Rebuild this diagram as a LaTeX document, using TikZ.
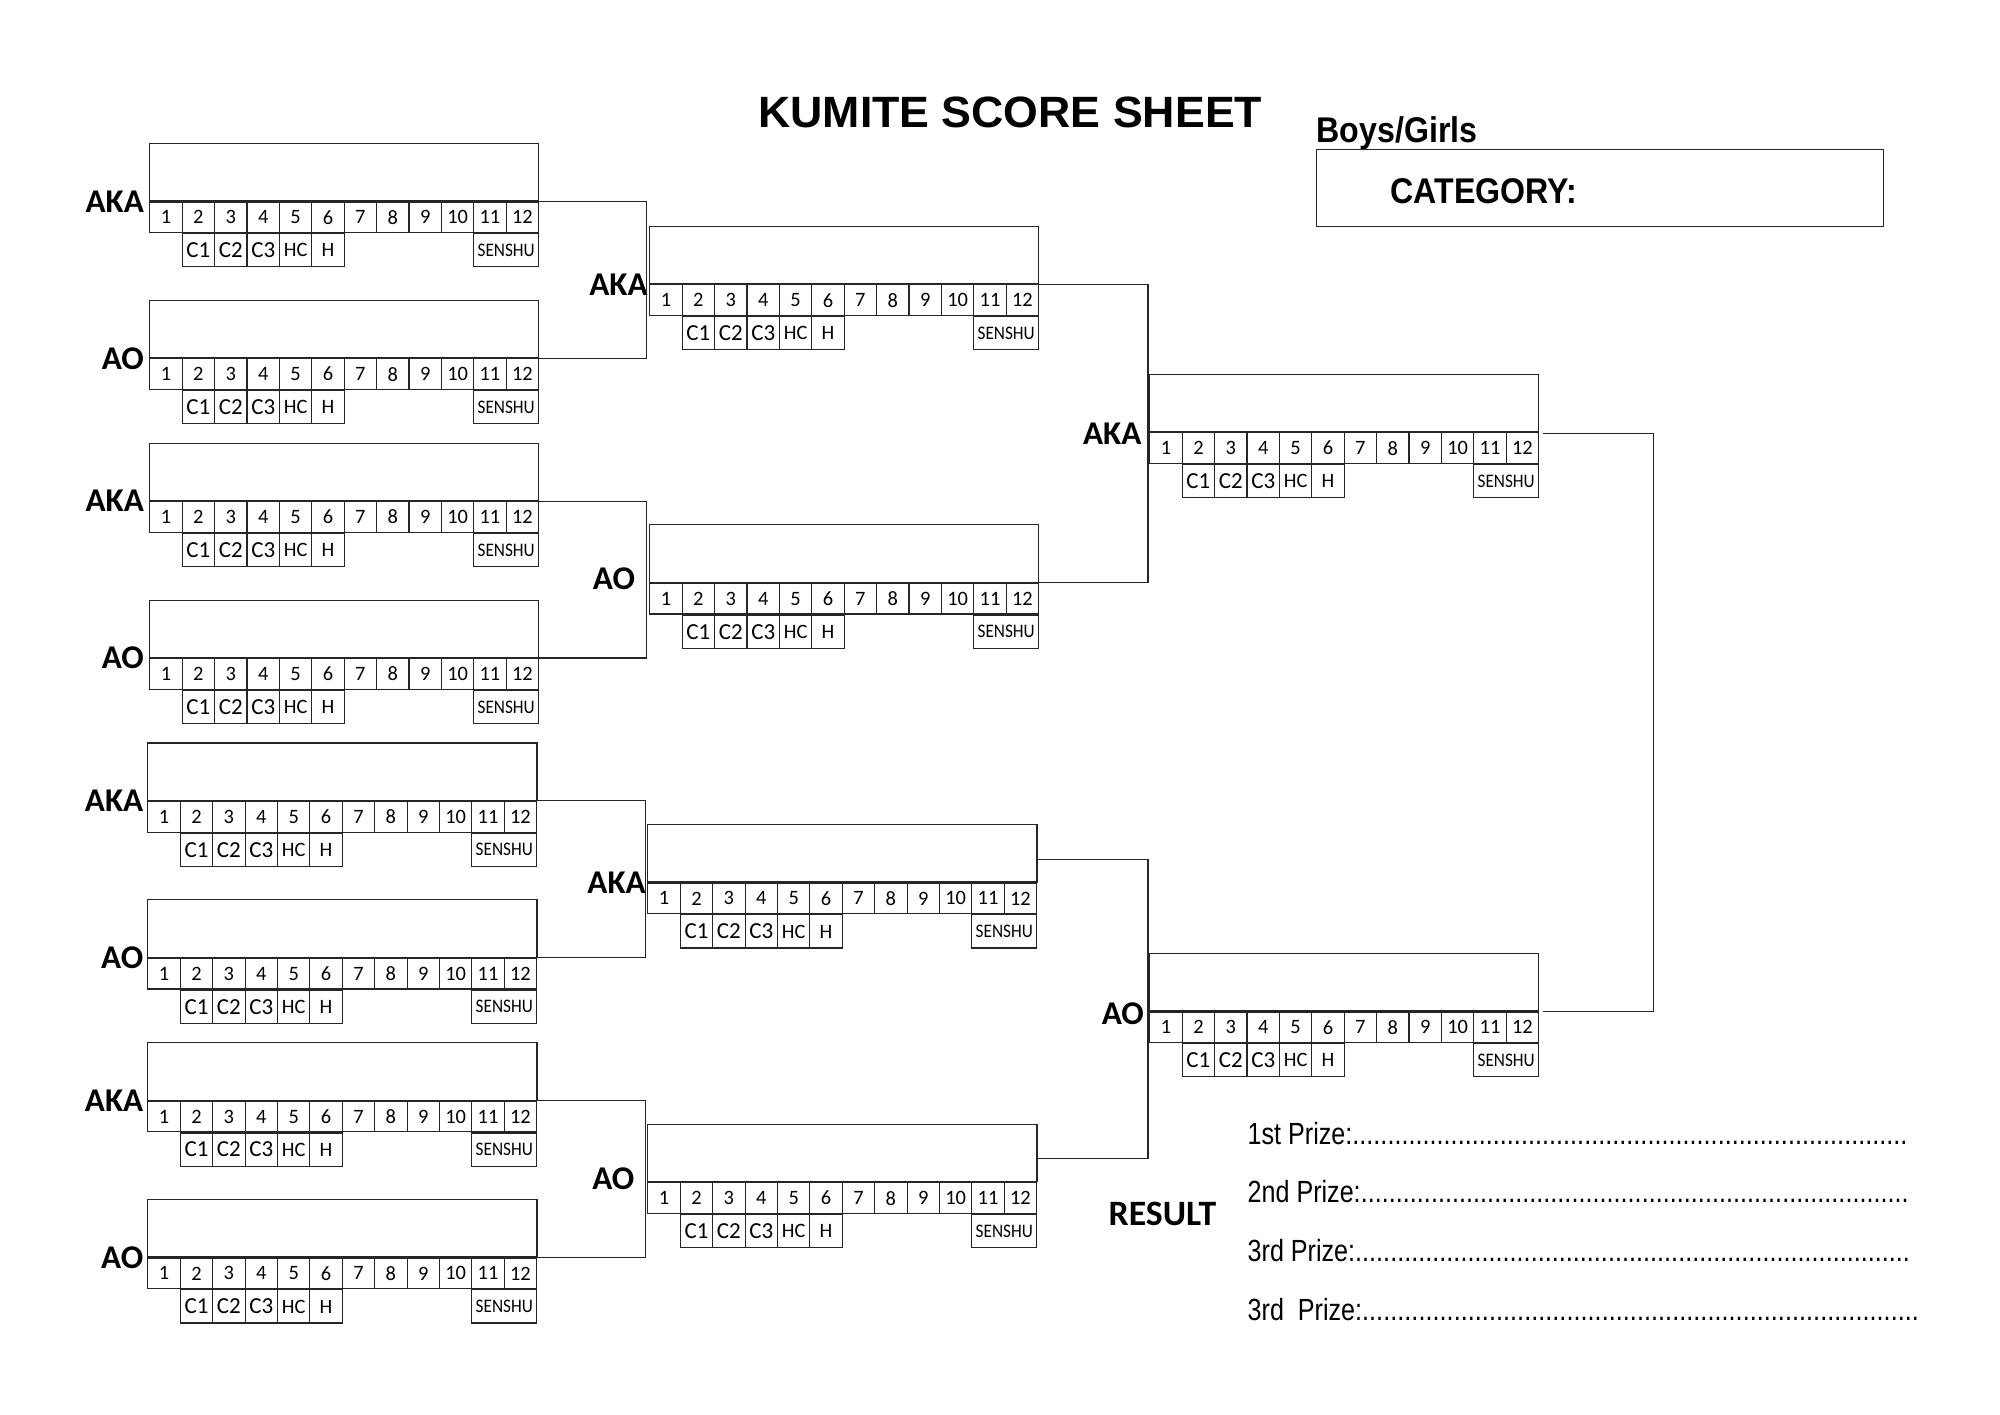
\documentclass[tikz,border=0pt]{standalone}
\usepackage{fontspec}
\setmainfont{Carlito}
\newfontfamily\arialfont{Liberation Sans}
\newfontfamily\arialnarrow[FakeStretch=0.82]{Liberation Sans}
\newfontfamily\arialbn[FakeStretch=0.9]{Liberation Sans}
\newfontfamily\senshufont[FakeStretch=0.9]{Carlito}
\usetikzlibrary{calc}

\tikzset{
  ln/.style={draw=black!85, line width=0.9pt},
  namebox/.style={ln, rectangle, minimum width=305pt, minimum height=45pt, inner sep=0pt, anchor=north west},
  cell/.style={ln, rectangle, minimum width=25.4pt, minimum height=24pt, inner sep=0pt, anchor=north west, font=\fontsize{16}{16}\selectfont},
  subcell/.style={ln, rectangle, minimum width=25.4pt, minimum height=26pt, inner sep=0pt, anchor=north west, font=\fontsize{18}{18}\selectfont},
  widecell/.style={minimum width=50.8pt},
  side/.style={anchor=east, inner sep=0pt, font=\bfseries\fontsize{26}{26}\selectfont},
  bracket/.style={draw=black!85, line width=0.9pt},
  prize/.style={anchor=base west, inner sep=0pt, font=\arialnarrow\fontsize{24}{24}\selectfont},
}

% #1 name, #2 x, #3 y, #4 label, #5 label offset
\newcommand\kumbox[5]{%
  \node[namebox] (#1) at (#2,#3) {};
  \foreach \i in {1,...,12}{
    \node[cell] (#1-\i) at ($(#1.south west)+({(\i-1)*25.4},0)$) {\i};
  }
  \node[subcell] (#1-ca) at (#1-2.south west) {C1};
  \node[subcell] (#1-cb) at (#1-3.south west) {C2};
  \node[subcell] (#1-cc) at (#1-4.south west) {C3};
  \node[subcell, font=\fontsize{16}{16}\selectfont] (#1-hc) at (#1-5.south west) {HC};
  \node[subcell, font=\fontsize{16}{16}\selectfont] (#1-h) at (#1-6.south west) {H};
  \node[subcell, widecell, font=\senshufont\fontsize{15}{15}\selectfont] (#1-sen) at (#1-11.south west) {SENSHU};
  \node[side] (#1-lab) at ($(#1.south west)+(#5)$) {#4};
}

\begin{document}
\begin{tikzpicture}[x=1pt, y=-1pt]
\fill[white] (0,0) rectangle (1568,1109);
\useasboundingbox (0,0) rectangle (1568,1109);

% title
\node (title) at (792,88) {\resizebox{395pt}{24pt}{\arialfont\bfseries KUMITE SCORE SHEET}};
\node[anchor=base west, inner sep=0pt, font=\arialbn\bfseries\fontsize{28}{28}\selectfont] (boys) at (1032,112) {Boys/Girls};
\node[ln, rectangle, minimum width=444pt, minimum height=60pt, inner sep=0pt, anchor=north west] (cat) at (1032,117) {};
\node[anchor=west, inner sep=0pt, font=\arialbn\bfseries\fontsize{28}{28}\selectfont] (catlab) at (1090,150) {CATEGORY:};

% round 1
\kumbox{a1}{117}{112}{AKA}{-4,0}
\kumbox{a2}{117}{235}{AO}{-4,0}
\kumbox{a3}{117}{347}{AKA}{-4,0}
\kumbox{a4}{117}{470}{AO}{-4,0}
\kumbox{a5}{115.5}{582}{AKA}{-3,0}
\kumbox{a6}{115.5}{705}{AO}{-3,0}
\kumbox{a7}{115.5}{817}{AKA}{-3,0}
\kumbox{a8}{115.5}{940}{AO}{-3,0}

% round 2
\kumbox{ra}{509}{177}{AKA}{-1,0}
\kumbox{rb}{509}{411}{AO}{-11,-3}
\kumbox{rc}{507.5}{646}{AKA}{-1,0}
\kumbox{rd}{507.5}{881}{AO}{-10,-3}

% round 3
\kumbox{sa}{901}{293}{AKA}{-6,1}
\kumbox{sb}{901}{747}{AO}{-4,2}

% brackets round 1 -> 2
\coordinate (j1) at (507,218);
\coordinate (j2) at (507,453);
\coordinate (j3) at (506,688);
\coordinate (j4) at (506,923);
\draw[bracket] (a1.south east) -| (j1) |- (a2.south east);
\draw[bracket] (a3.south east) -| (j2) |- (a4.south east);
\draw[bracket] (a5.south east) -| (j3) |- (a6.south east);
\draw[bracket] (a7.south east) -| (j4) |- (a8.south east);

% brackets round 2 -> 3
\coordinate (k1) at (900,338);
\coordinate (k2) at (900,791);
\draw[bracket] (ra.south east) -| (k1) |- (rb.south east);
\draw[bracket] ($(rc.north east)+(0,28)$) -| (k2) |- ($(rd.north east)+(0,27)$);

% final bracket
\coordinate (f1) at (1296,565);
\draw[bracket] ($(sa.south east)+(3,1)$) -| (f1) |- ($(sb.south east)+(3,0)$);

% result
\node[anchor=west, inner sep=0pt, font=\bfseries\fontsize{28}{28}\selectfont] (result) at (869,952) {RESULT};
\node[prize] (p1) at (978,897) {\makebox[517pt][l]{1st Prize:\xleaders\hbox{.}\hfill}};
\node[prize] (p2) at (978,943) {\makebox[518pt][l]{2nd Prize:\xleaders\hbox{.}\hfill}};
\node[prize] (p3) at (978,989) {\makebox[519pt][l]{3rd Prize:\xleaders\hbox{.}\hfill}};
\node[prize] (p4) at (978,1035) {\makebox[526pt][l]{3rd\ \ Prize:\xleaders\hbox{.}\hfill}};
\end{tikzpicture}
\end{document}
